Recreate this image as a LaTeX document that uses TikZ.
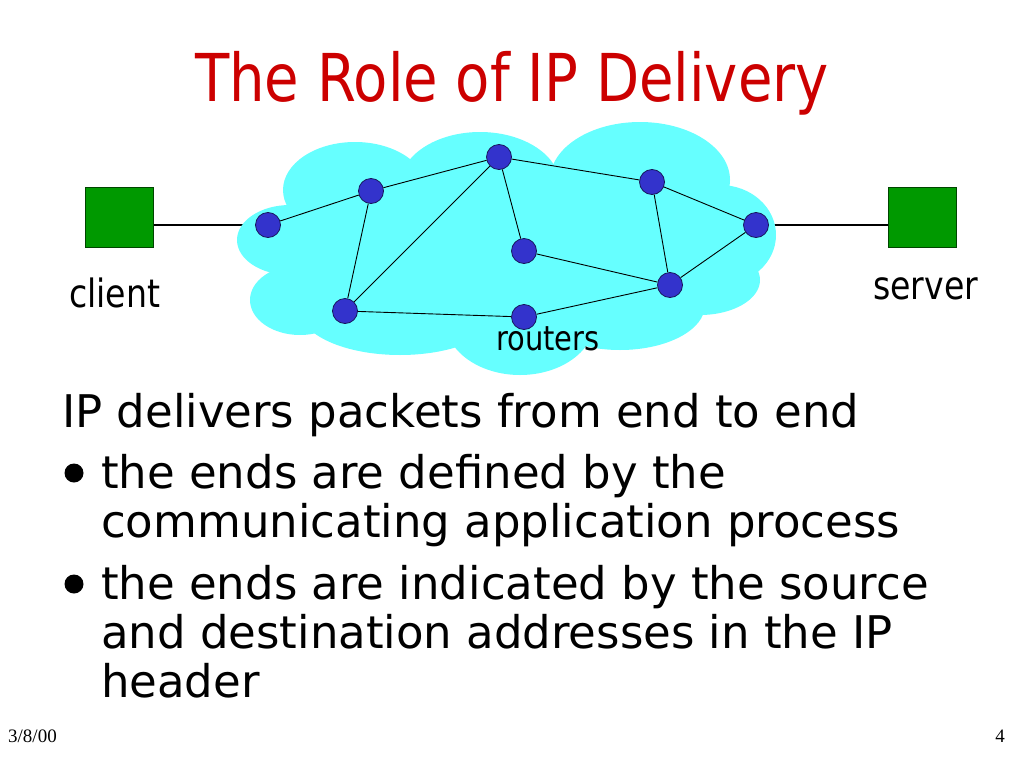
\documentclass[tikz,border=0pt]{standalone}
\usepackage{fontspec}
\setmainfont{DejaVu Sans}
\newfontfamily\narrowfont{DejaVu Sans}[FakeStretch=0.85]
\newfontfamily\footfont{Liberation Serif}
\usepackage{xcolor}
\usetikzlibrary{positioning}
\definecolor{titlered}{HTML}{CC0000}
\definecolor{cloudcyan}{HTML}{66FFFF}
\definecolor{routerblue}{HTML}{3333CC}
\definecolor{hostgreen}{HTML}{009900}
\pgfdeclarelayer{back}
\pgfdeclarelayer{cloud}
\pgfsetlayers{back,cloud,main}

\begin{document}
\begin{tikzpicture}[x=1pt,y=-1pt,
    router/.style={circle,draw=routerblue!45!black,fill=routerblue,minimum size=25pt,inner sep=0pt,line width=0.8pt},
    host/.style={rectangle,draw=hostgreen!45!black,fill=hostgreen,minimum width=68pt,minimum height=60pt,inner sep=0pt,line width=0.8pt},
    link/.style={line width=0.9pt},
    hostlink/.style={line width=1.8pt},
    dotmark/.style={circle,fill=black,minimum size=19pt,inner sep=0pt},
    txt/.style={inner sep=0pt,anchor=base west},
    bodytext/.style={txt,font=\fontsize{45}{51}\selectfont},
    labeltext/.style={txt,font=\narrowfont\fontsize{39}{44}\selectfont}]
    \useasboundingbox (0,0) rectangle (1024,768);

    % Title
    \node[inner sep=0pt,anchor=base,text=titlered,font=\narrowfont\fontsize{66}{70}\selectfont] (title) at (512,101) {The Role of IP Delivery};

    % Routers
    \foreach \n/\x/\y in {r1/268/225, r2/371/191, r3/499/157, r4/652/182, r5/756/225,
                          r6/524/251, r7/670/285, r8/345/311, r9/524/317}
        \node[router] (\n) at (\x,\y) {};

    \foreach \a/\b in {r1/r2, r2/r3, r2/r8, r3/r8, r3/r6, r3/r4,
                       r4/r7, r4/r5, r5/r7, r6/r7, r8/r9, r9/r7}
        \draw[link] (\a) -- (\b);

    % Cloud
    \begin{pgfonlayer}{cloud}
        \foreach \cx/\cy/\rx/\ry in {290/240/53/35, 300/300/50/35, 355/190/72/48, 480/185/80/53,
                                     640/180/90/58, 720/235/56/50, 700/280/60/35, 620/305/85/45,
                                     520/320/75/55, 400/310/100/45, 510/245/200/80}
            \fill[cloudcyan] (\cx,\cy) ellipse [x radius=\rx, y radius=\ry];
    \end{pgfonlayer}

    % Hosts
    \node[host] (client) at (119,217) {};
    \node[host] (server) at (922,217) {};
    \begin{pgfonlayer}{back}
        \draw[hostlink] (client.east |- r1) -- (r1);
        \draw[hostlink] (server.west |- r5) -- (r5);
    \end{pgfonlayer}

    \node[labeltext] (clientlabel) at (69,307) {client};
    \node[labeltext] (serverlabel) at (873,299) {server};
    \node[txt,font=\narrowfont\fontsize{34}{38}\selectfont] (routerslabel) at (496,350) {routers};

    % Text
    \node[bodytext] (lead) at (62,427) {IP delivers packets from end to end};
    \node[dotmark] (dotA) at (74,473) {};
    \node[bodytext] (itemA1) at (101,488) {the ends are defined by the};
    \node[bodytext] (itemA2) at (101,537) {communicating application process};
    \node[dotmark] (dotB) at (74,584) {};
    \node[bodytext] (itemB1) at (101,599) {the ends are indicated by the source};
    \node[bodytext] (itemB2) at (101,648) {and destination addresses in the IP};
    \node[bodytext] (itemB3) at (101,697) {header};

    % Footer
    \node[txt,font=\footfont\fontsize{19}{20}\selectfont] (date) at (8,742) {3/8/00};
    \node[txt,anchor=base east,font=\footfont\fontsize{19}{20}\selectfont] (page) at (1005,742) {4};
\end{tikzpicture}
\end{document}
